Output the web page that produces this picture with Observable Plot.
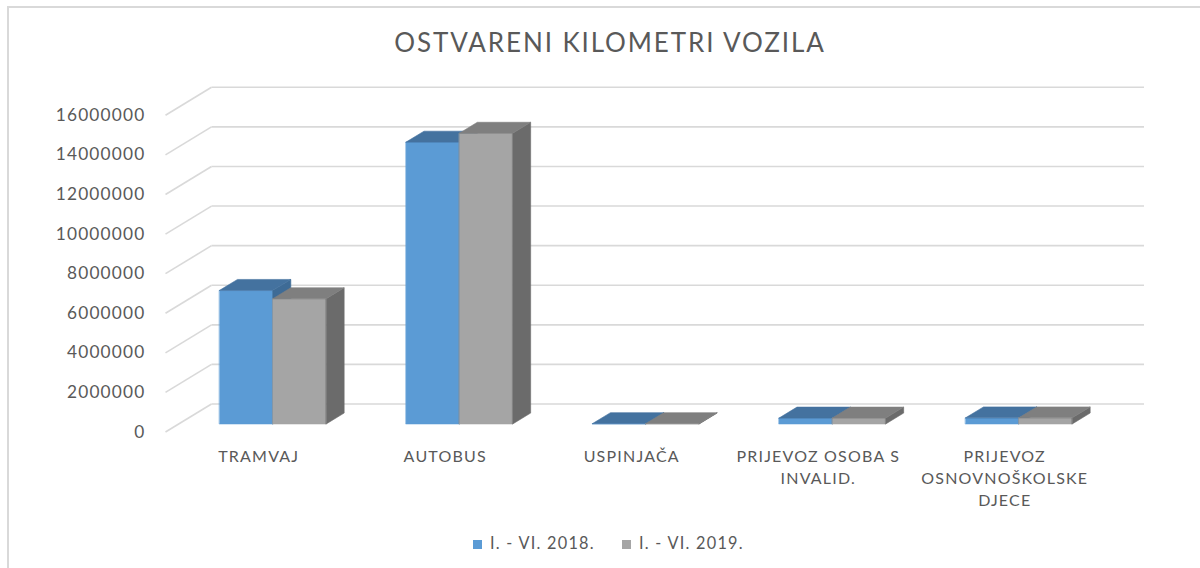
<!DOCTYPE html>
<html><head><meta charset="utf-8">
<script src="https://cdn.jsdelivr.net/npm/d3@7"></script>
<script src="https://cdn.jsdelivr.net/npm/@observablehq/plot@0.6"></script>
<style>
html,body{margin:0;padding:0;background:#fff;overflow:hidden;}
#wrap{position:relative;width:1200px;height:568px;overflow:hidden;font-family:Lato,sans-serif;color:#595959;}
#frame{position:absolute;left:7px;top:6px;width:1400px;height:800px;border-left:2px solid #d9d9d9;border-top:2px solid #d9d9d9;}
#title{position:absolute;top:27px;left:10px;width:1200px;text-align:center;font-size:26px;letter-spacing:1.9px;line-height:30px;}
#chart{position:absolute;left:0;top:70px;}
#chart text{letter-spacing:1.2px;}
#legend{position:absolute;top:533px;left:0;width:1200px;font-size:16.3px;letter-spacing:1.25px;}
.item{position:absolute;top:0;height:20px;line-height:20px;white-space:nowrap;}
.sw{display:inline-block;width:9px;height:9px;margin-right:8px;vertical-align:0px;}
</style>
</head><body>
<div id="wrap">
<div id="frame"></div>
<div id="title"></div>
<div id="chart"></div>
<div id="legend"></div>
</div>
<script>
// ---- data ----
const title = "OSTVARENI KILOMETRI VOZILA";
const categories = ["TRAMVAJ", "AUTOBUS", "USPINJAČA", "PRIJEVOZ OSOBA S\nINVALID.", "PRIJEVOZ\nOSNOVNOŠKOLSKE\nDJECE"];
const seriesNames = ["I. - VI. 2018.", "I. - VI. 2019."];
const values2018 = [6750000, 14240000, 20000, 300000, 310000];
const values2019 = [6330000, 14690000, 20000, 300000, 310000];
const yTicks = [0, 2000000, 4000000, 6000000, 8000000, 10000000, 12000000, 14000000, 16000000];

// ---- styles / geometry ----
const W = 1200, H = 430;
const mL = 165, mR = 102.5, mT = 44.8, mB = 68.5;
const kx = 5 / (W - mL - mR);            // data units per px (x)
const ky = 16000000 / (H - mT - mB);     // data units per px (y)
const floorDX = 46 * kx, floorDY = 28 * ky;  // depth of the floor
const barF0 = 0.287;                      // front plane of bars (fraction of depth)
const barDepth = 0.39;                    // bar depth (fraction)
const gap = 0.219, bw = 0.286;
const faceColors = [
  {front: "#5B9BD5", side: "#3E6B96", top: "#44729F"},
  {front: "#A5A5A5", side: "#6B6B6B", top: "#7F7F7F"}
];
const gridColor = "#D9D9D9";
const textColor = "#595959";

// ---- build faces ----
const seriesValues = [values2018, values2019];
const faces = {front: [[], []], side: [[], []], top: [[], []]};
seriesValues.forEach((vals, s) => {
  vals.forEach((v, i) => {
    const ox = barF0 * floorDX, oy = barF0 * floorDY;
    const dx = barDepth * floorDX, dy = barDepth * floorDY;
    const x0 = i + gap + s * bw + ox, x1 = x0 + bw;
    const y0 = oy, y1 = v + oy;
    const id = `${s}-${i}`;
    faces.front[s].push(...[[x0, y0], [x1, y0], [x1, y1], [x0, y1]].map(([x, y]) => ({x, y, id})));
    faces.side[s].push(...[[x1, y0], [x1 + dx, y0 + dy], [x1 + dx, y1 + dy], [x1, y1]].map(([x, y]) => ({x, y, id})));
    faces.top[s].push(...[[x0, y1], [x0 + dx, y1 + dy], [x1 + dx, y1 + dy], [x1, y1]].map(([x, y]) => ({x, y, id})));
  });
});

const faceMarks = [];
[0, 1].forEach(s => {
  ["front", "side", "top"].forEach(f => {
    faceMarks.push(Plot.line(faces[f][s], {x: "x", y: "y", z: "id", fill: faceColors[s][f], stroke: faceColors[s][f], strokeWidth: 0.6, curve: "linear-closed"}));
  });
});

const catData = categories.map((c, i) => ({c, i}));

const chart = Plot.plot({
  width: W, height: H,
  marginLeft: mL, marginRight: mR, marginTop: mT, marginBottom: mB,
  x: {type: "linear", domain: [0, 5], axis: null},
  y: {type: "linear", domain: [0, 16000000], axis: null},
  style: {fontFamily: "Lato, sans-serif", color: textColor, background: "transparent", overflow: "visible"},
  marks: [
    // side wall diagonals
    Plot.link(yTicks, {x1: 0, y1: d => d, x2: floorDX, y2: d => d + floorDY, stroke: gridColor, strokeWidth: 1.6}),
    // back wall gridlines
    Plot.link(yTicks, {x1: floorDX, y1: d => d + floorDY, x2: 5 + floorDX, y2: d => d + floorDY, stroke: gridColor, strokeWidth: 1.6}),
    ...faceMarks,
    // y tick labels
    Plot.text(yTicks, {x: 0, y: d => d, text: d => String(d), textAnchor: "end", dx: -20, fontSize: 17.3, fill: textColor}),
    // category labels
    Plot.text(catData, {x: d => d.i + 0.5, y: 0, text: "c", lineAnchor: "top", dy: 14, fontSize: 16, lineHeight: 1.38, fill: textColor})
  ]
});
document.getElementById("chart").appendChild(chart);
document.getElementById("title").textContent = title;

const legend = document.getElementById("legend");
const legendX = [473, 622];
seriesNames.forEach((n, s) => {
  const d = document.createElement("div");
  d.className = "item";
  d.style.left = legendX[s] + "px";
  d.innerHTML = `<span class="sw" style="background:${faceColors[s].front}"></span>${n}`;
  legend.appendChild(d);
});
</script>
</body></html>
